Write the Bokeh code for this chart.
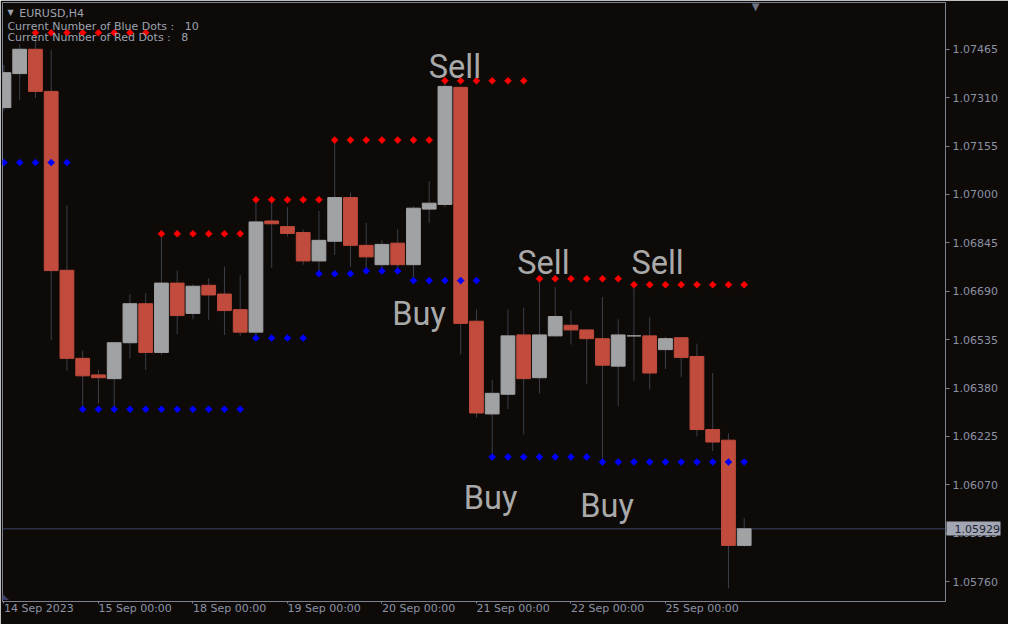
import numpy as np
from bokeh.plotting import figure
from bokeh.models import (ColumnDataSource, Range1d, FixedTicker, LinearAxis,
                          PrintfTickFormatter, CustomJSTickFormatter, Span, Label)
from bokeh.core.properties import value
from bokeh.embed import file_html
from bokeh.resources import INLINE

# ---------------- data (EURUSD, H4) ----------------
symbol = "EURUSD,H4"
open_ = [1.07278, 1.07387, 1.07465, 1.07330, 1.06757, 1.06475, 1.06422, 1.06410, 1.06525, 1.06650,
         1.06494, 1.06716, 1.06619, 1.06709, 1.06681, 1.06631, 1.06559, 1.06915, 1.06897, 1.06878,
         1.06787, 1.06850, 1.06990, 1.06837, 1.06775, 1.06844, 1.06775, 1.06953, 1.06968, 1.07343,
         1.06594, 1.06297, 1.06360, 1.06550, 1.06413, 1.06547, 1.06581, 1.06566, 1.06538, 1.06450,
         1.06547, 1.06547, 1.06503, 1.06541, 1.06481, 1.06247, 1.06213, 1.05876]
high = [1.07415, 1.07481, 1.07505, 1.07462, 1.06965, 1.06500, 1.06438, 1.06528, 1.06681, 1.06684,
        1.06869, 1.06756, 1.06712, 1.06731, 1.06769, 1.06741, 1.06981, 1.06981, 1.06959, 1.06887,
        1.06947, 1.07168, 1.07006, 1.06909, 1.06853, 1.06890, 1.06962, 1.07043, 1.07362, 1.07346,
        1.06631, 1.06406, 1.06631, 1.06638, 1.06725, 1.06703, 1.06628, 1.06569, 1.06672, 1.06600,
        1.06709, 1.06606, 1.06544, 1.06541, 1.06522, 1.06428, 1.06235, 1.05963]
low = [1.07268, 1.07303, 1.07309, 1.06534, 1.06435, 1.06316, 1.06331, 1.06316, 1.06475, 1.06438,
       1.06485, 1.06553, 1.06600, 1.06597, 1.06550, 1.06547, 1.06550, 1.06765, 1.06865, 1.06775,
       1.06747, 1.06806, 1.06769, 1.06759, 1.06747, 1.06756, 1.06725, 1.06909, 1.06959, 1.06488,
       1.06285, 1.06163, 1.06313, 1.06232, 1.06363, 1.06544, 1.06519, 1.06394, 1.06153, 1.06322,
       1.06403, 1.06375, 1.06441, 1.06416, 1.06225, 1.06178, 1.05738, 1.05872]
close = [1.07390, 1.07465, 1.07330, 1.06756, 1.06475, 1.06419, 1.06413, 1.06525, 1.06650, 1.06494,
         1.06716, 1.06612, 1.06706, 1.06678, 1.06628, 1.06559, 1.06912, 1.06906, 1.06875, 1.06787,
         1.06853, 1.06990, 1.06837, 1.06800, 1.06840, 1.06775, 1.06956, 1.06972, 1.07346, 1.06587,
         1.06300, 1.06363, 1.06547, 1.06410, 1.06550, 1.06609, 1.06566, 1.06538, 1.06453, 1.06550,
         1.06547, 1.06428, 1.06538, 1.06478, 1.06247, 1.06207, 1.05876, 1.05929]

NAN = float("nan")
red_dots = [NAN, NAN,
            1.07518, 1.07518, 1.07518, 1.07518, 1.07518, 1.07518, 1.07518, 1.07518,
            1.06874, 1.06874, 1.06874, 1.06874, 1.06874, 1.06874,
            1.06983, 1.06983, 1.06983, 1.06983, 1.06983,
            1.07174, 1.07174, 1.07174, 1.07174, 1.07174, 1.07174, 1.07174,
            1.07364, 1.07364, 1.07364, 1.07364, 1.07364, 1.07364,
            1.06730, 1.06730, 1.06730, 1.06730, 1.06730, 1.06730,
            1.06711, 1.06711, 1.06711, 1.06711, 1.06711, 1.06711, 1.06711, 1.06711]
blue_dots = [1.07102, 1.07102, 1.07102, 1.07102, 1.07102,
             1.06312, 1.06312, 1.06312, 1.06312, 1.06312, 1.06312, 1.06312, 1.06312, 1.06312, 1.06312, 1.06312,
             1.06540, 1.06540, 1.06540, 1.06540,
             1.06746, 1.06746, 1.06746,
             1.06755, 1.06755, 1.06755,
             1.06724, 1.06724, 1.06724, 1.06724, 1.06724,
             1.06159, 1.06159, 1.06159, 1.06159, 1.06159, 1.06159, 1.06159,
             1.06143, 1.06143, 1.06143, 1.06143, 1.06143, 1.06143, 1.06143, 1.06143, 1.06143, 1.06143]

day_index = [0, 6, 12, 18, 24, 30, 36, 42]
day_labels = ["14 Sep 2023", "15 Sep 00:00", "18 Sep 00:00", "19 Sep 00:00",
              "20 Sep 00:00", "21 Sep 00:00", "22 Sep 00:00", "25 Sep 00:00"]
price_ticks = [1.07465, 1.07310, 1.07155, 1.07000, 1.06845, 1.06690,
               1.06535, 1.06380, 1.06225, 1.06070, 1.05915, 1.05760]

sig_text = ["Buy", "Sell", "Buy", "Sell", "Buy", "Sell"]
sig_x = [24.66, 26.97, 29.20, 32.59, 36.59, 39.84]
sig_price = [1.06617, 1.07408, 1.06029, 1.06780, 1.06003, 1.06780]

NB = "\u00a0"
blue_count_text = "Current Number of Blue Dots :" + NB * 3 + "10"
red_count_text = "Current Number of Red Dots :" + NB * 3 + "8"

# ---------------- style / layout ----------------
BG = "#0d0a08"
BULL = "#a1a2a4"
BEAR = "#c14b3c"
WICK = "#3c414d"
AXIS = "#7c8294"
TICK_TXT = "#8b92a5"
SIG_TXT = "#a9a9a9"
INFO_TXT = "#9ea3b0"
FONT = "DejaVu Sans"

W, H = 1008, 624
SX, SY = W / 1024.0, H / 640.0          # reference window -> canvas
FL, FR, FT, FB = 2, 945, 2, 601          # frame edges on the canvas

# reference pixel <-> data helpers (candle i centred at ref x 3.5 + 16 i)
PXC, X0 = 16.0, 3.5
STEP_PX = 49.636
K = (price_ticks[0] - price_ticks[1]) / STEP_PX
def px2x(px):
    return (px - X0) / PXC
def py2p(py):
    return price_ticks[0] - (py - 50.0) * K

p = figure(width=W, height=H, output_backend="svg", toolbar_location=None,
           x_range=Range1d(px2x(FL / SX), px2x(FR / SX)),
           y_range=Range1d(py2p(FB / SY), py2p(FT / SY)),
           x_axis_location=None, y_axis_location="right",
           background_fill_color=BG, border_fill_color=BG,
           min_border_left=FL, min_border_top=FT,
           min_border_right=W - FR, min_border_bottom=H - FB)
p.outline_line_color = AXIS
p.outline_line_width = 1
p.grid.visible = False

# right price axis
ya = p.yaxis[0]
ya.ticker = FixedTicker(ticks=price_ticks, minor_ticks=[])
ya.formatter = PrintfTickFormatter(format="%.5f")
ya.axis_line_color = None
ya.major_tick_out = 4
ya.major_tick_in = 0
ya.minor_tick_out = 0
ya.minor_tick_in = 0
ya.major_tick_line_color = AXIS
ya.major_label_standoff = 3
ya.major_label_text_font = FONT
ya.major_label_text_font_size = "11px"
ya.major_label_text_color = TICK_TXT

# current price box: a second right axis whose single thick tick points back
# over the price scale, with its label drawn on top of it
box_axis = LinearAxis(ticker=FixedTicker(ticks=[close[-1]], minor_ticks=[]),
                      formatter=PrintfTickFormatter(format="%.5f"),
                      axis_line_color=None,
                      major_tick_in=54, major_tick_out=0,
                      minor_tick_in=0, minor_tick_out=0,
                      major_tick_line_color="#a3a7b3", major_tick_line_width=14,
                      major_tick_line_cap="butt",
                      major_label_standoff=-46, major_label_text_font=FONT,
                      major_label_text_font_size="11px", major_label_text_color="#1f2435")
p.add_layout(box_axis, "right")

# bottom time axis, labels starting at the day ticks
fmt = CustomJSTickFormatter(args=dict(pos=day_index, labels=day_labels), code="""
let b = 0;
for (let j = 0; j < pos.length; j++) { if (Math.abs(pos[j] - tick) < Math.abs(pos[b] - tick)) b = j; }
return labels[b];
""")
xa = LinearAxis(ticker=FixedTicker(ticks=day_index, minor_ticks=[]), formatter=fmt,
                axis_line_color=None, major_tick_out=2, major_tick_in=0,
                minor_tick_out=0, minor_tick_in=0, major_tick_line_color=AXIS,
                major_label_orientation=-1e-6, major_label_standoff=5,
                major_label_text_font=FONT, major_label_text_font_size="11px",
                major_label_text_color=TICK_TXT)
p.add_layout(xa, "below")

# current price line (behind candles)
p.add_layout(Span(location=close[-1], dimension="width", line_color="#3d4266",
                  line_width=1, level="underlay"))

# candles
idx = list(range(len(open_)))
o = np.array(open_); c = np.array(close)
src = ColumnDataSource(dict(i=idx, h=high, l=low,
                            top=np.maximum(o, c), bottom=np.minimum(o, c),
                            color=[BULL if cc >= oo else BEAR for oo, cc in zip(open_, close)]))
p.segment(x0="i", y0="h", x1="i", y1="l", source=src, line_color=WICK, line_width=1)
p.vbar(x="i", width=14 / PXC, top="top", bottom="bottom", fill_color="color",
       line_color="color", line_width=1, source=src)

# indicator dots
p.scatter(x=idx, y=red_dots, marker="square", angle=np.pi / 4, size=5,
          fill_color="#ff0000", line_color="#ff0000", line_width=0.5)
p.scatter(x=idx, y=blue_dots, marker="square", angle=np.pi / 4, size=5,
          fill_color="#0000ff", line_color="#0000ff", line_width=0.5)

# signal texts
p.text(x=sig_x, y=sig_price, text=sig_text, text_font=value("Roboto"),
       text_font_size=value("32.5px"), text_color=SIG_TXT,
       text_align="left", text_baseline="alphabetic")

# info texts (top-left)
p.add_layout(Label(x=px2x(7), y=py2p(12.5), text="\u25BC", text_font=FONT, text_font_size="8px",
                   text_color=INFO_TXT, text_baseline="middle", text_align="left"))
p.add_layout(Label(x=px2x(19), y=py2p(13), text=symbol, text_font=FONT, text_font_size="11px",
                   text_color=INFO_TXT, text_baseline="middle", text_align="left"))
p.add_layout(Label(x=px2x(7), y=py2p(26.5), text=blue_count_text, text_font=FONT,
                   text_font_size="11px", text_color=INFO_TXT, text_baseline="middle",
                   text_align="left"))
p.add_layout(Label(x=px2x(7), y=py2p(38), text=red_count_text, text_font=FONT,
                   text_font_size="11px", text_color=INFO_TXT, text_baseline="middle",
                   text_align="left"))
# chart shift marker and corner marker
p.add_layout(Label(x=px2x(767), y=py2p(1), text="\u25BC", text_font=FONT, text_font_size="10px",
                   text_color="#6f7585", text_baseline="top", text_align="center"))
p.add_layout(Label(x=px2x(1.5), y=py2p(616), text="\u25E3", text_font=FONT, text_font_size="9px",
                   text_color="#3a3d6b", text_baseline="bottom", text_align="left"))

open("out.html", "w").write(file_html(p, INLINE))
